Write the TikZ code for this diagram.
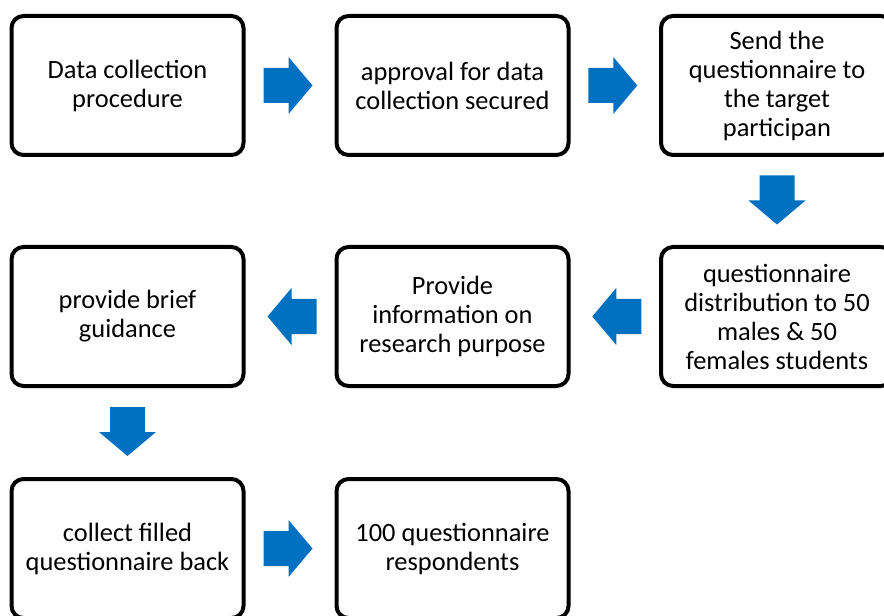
\documentclass[tikz,border=0pt]{standalone}
\usepackage{fontspec}
\setmainfont{Carlito}
\usetikzlibrary{calc}
\definecolor{arrowblue}{HTML}{0070C0}
\tikzset{
  stepbox/.style={draw=black, line width=3pt, rounded corners=9pt, fill=white,
    minimum width=174pt, minimum height=104.25pt, inner sep=0pt,
    align=center, font=\fontsize{19.8}{21.75}\selectfont},
  barrow/.pic={\fill[arrowblue] (-24.5,-17.5) -- (0.5,-17.5) -- (0.5,-28.5) -- (24.5,0) -- (0.5,28.5) -- (0.5,17.5) -- (-24.5,17.5) -- cycle;}
}
\begin{document}
\begin{tikzpicture}[x=0.75pt,y=0.75pt]
\useasboundingbox (0,0) rectangle (884,-616);
\node[stepbox] (a) at (127.5,-85.5) {Data collection\\procedure};
\node[stepbox] (b) at (452.5,-85.5) {approval for data\\collection secured};
\node[stepbox] (c) at (777,-85.5) {Send the\\questionnaire to\\the target\\participan};
\node[stepbox] (d) at (777,-316.5) {questionnaire\\distribution to 50\\males \& 50\\females students};
\node[stepbox] (e) at (452.5,-316.5) {Provide\\information on\\research purpose};
\node[stepbox] (f) at (127.5,-316.5) {provide brief\\guidance};
\node[stepbox] (g) at (127.5,-548.5) {collect filled\\questionnaire back};
\node[stepbox] (h) at (452.5,-548.5) {100 questionnaire\\respondents};
\pic at ($(a.east)!0.5!(b.west)+(-2,0)$) {barrow};
\pic at ($(b.east)!0.5!(c.west)+(-2,0)$) {barrow};
\pic[rotate=-90] at ($(c.south)!0.5!(d.north)+(0,1)$) {barrow};
\pic[rotate=180] at ($(d.west)!0.5!(e.east)+(2,0)$) {barrow};
\pic[rotate=180] at ($(e.west)!0.5!(f.east)+(2,0)$) {barrow};
\pic[rotate=-90] at ($(f.south)!0.5!(g.north)+(0,1)$) {barrow};
\pic at ($(g.east)!0.5!(h.west)+(-2,0)$) {barrow};
\end{tikzpicture}
\end{document}
